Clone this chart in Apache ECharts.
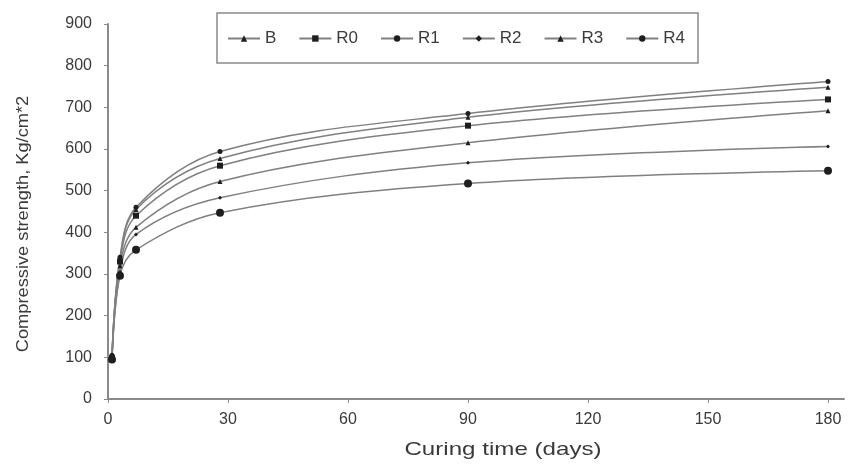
<!DOCTYPE html>
<html>
<head>
<meta charset="utf-8">
<script src="https://cdn.jsdelivr.net/npm/echarts@6/dist/echarts.min.js"></script>
<style>
  html, body { margin: 0; padding: 0; background: #fff; }
  #chart { width: 850px; height: 466px; }
</style>
</head>
<body>
<div id="chart"></div>
<script>
// Curing ages (days) at which the specimens were tested
const days = [1, 3, 7, 28, 90, 180];

// Compressive strength (Kg/cm^2) for each mix
const seriesNames = ['B', 'R0', 'R1', 'R2', 'R3', 'R4'];
const valuesB  = [100, 335, 455, 577, 676, 748];
const valuesR0 = [98, 330, 440, 560, 656, 719];
const valuesR1 = [105, 340, 460, 594, 685, 762];
const valuesR2 = [95, 305, 395, 483, 567, 606];
const valuesR3 = [100, 320, 412, 522, 615, 692];
const valuesR4 = [95, 296, 358, 447, 517, 548];

// Axis tick values and titles
const xTicks = [0, 30, 60, 90, 120, 150, 180];
const yTicks = [0, 100, 200, 300, 400, 500, 600, 700, 800, 900];
const xTitle = 'Curing time (days)';
const yTitle = 'Compressive strength, Kg/cm*2';

const allValues = [valuesB, valuesR0, valuesR1, valuesR2, valuesR3, valuesR4];
const symbols = ['triangle', 'rect', 'circle', 'diamond', 'triangle', 'circle'];
const symbolSizes = [5, 6, 5, 4, 5, 8];

const font = 'Liberation Sans, Arial, sans-serif';
const textColor = '#3a3a3a';
const axisColor = '#8a8a8a';

const series = seriesNames.map((name, i) => ({
  name: name,
  type: 'line',
  smooth: 0.35,
  data: days.map((d, k) => [d, allValues[i][k]]),
  symbol: symbols[i],
  symbolSize: symbolSizes[i],
  showAllSymbol: true,
  lineStyle: { color: '#808080', width: 1.5 },
  itemStyle: { color: '#1e1e1e', borderWidth: 0 },
  emphasis: { disabled: true }
}));

const chart = echarts.init(document.getElementById('chart'), null, { renderer: 'canvas' });
chart.setOption({
  animation: false,
  backgroundColor: '#ffffff',
  grid: { left: 108, right: 6, top: 24, bottom: 67 },
  legend: {
    data: seriesNames,
    left: 217,
    top: 13,
    padding: [17, 13, 16, 10],
    itemGap: 22,
    itemWidth: 32,
    itemHeight: 8,
    borderColor: axisColor,
    borderWidth: 1.5,
    textStyle: { fontFamily: font, fontSize: 17, color: textColor }
  },
  // Axis titles, widened along the reading direction
  graphic: [
    {
      type: 'text',
      x: 503, y: 450,
      scaleX: 1.27,
      style: {
        text: xTitle, font: '19px ' + font, fill: textColor,
        align: 'center', verticalAlign: 'middle'
      }
    },
    {
      type: 'text',
      x: 24, y: 224,
      rotation: Math.PI / 2,
      scaleX: 1.14,
      style: {
        text: yTitle, font: '16px ' + font, fill: textColor,
        align: 'center', verticalAlign: 'middle'
      }
    }
  ],
  xAxis: {
    type: 'value',
    min: 0,
    max: 184,
    interval: 30,
    axisLine: { show: true, onZero: false, lineStyle: { color: axisColor, width: 2 } },
    axisTick: { show: true, length: 4, lineStyle: { color: axisColor } },
    axisLabel: {
      fontFamily: font, fontSize: 16, color: textColor, margin: 13,
      showMaxLabel: false,
      formatter: v => (xTicks.indexOf(v) >= 0 ? String(v) : '')
    },
    splitLine: { show: false }
  },
  yAxis: {
    type: 'value',
    min: 0,
    max: 900,
    interval: 100,
    axisLine: { show: true, lineStyle: { color: axisColor, width: 2 } },
    axisTick: { show: true, length: 4, lineStyle: { color: axisColor } },
    axisLabel: {
      fontFamily: font, fontSize: 16, color: textColor, margin: 16,
      formatter: v => (yTicks.indexOf(v) >= 0 ? String(v) : '')
    },
    splitLine: { show: false }
  },
  series: series
});
</script>
</body>
</html>
